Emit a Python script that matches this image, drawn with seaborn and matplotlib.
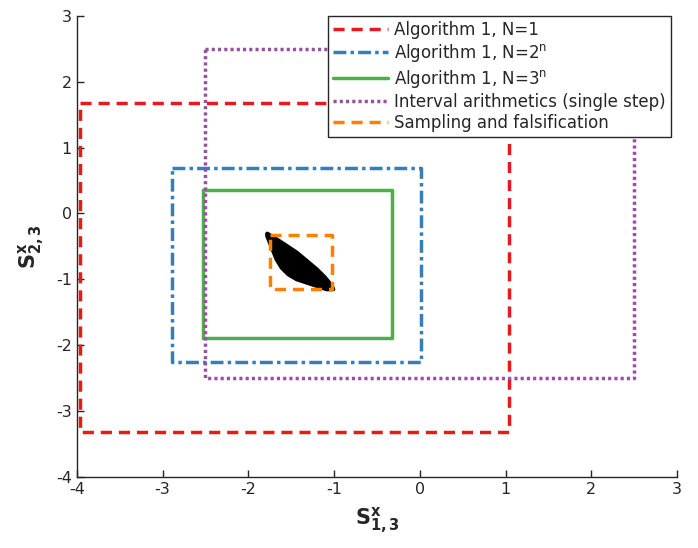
import numpy as np
import pandas as pd
import matplotlib
matplotlib.use("Agg")
import matplotlib.pyplot as plt
import seaborn as sns

# Box bounds [xmin, xmax, ymin, ymax]
labels = ["Algorithm 1, N=1", r"Algorithm 1, N=2$^{\rm n}$", r"Algorithm 1, N=3$^{\rm n}$",
          "Interval arithmetics (single step)", "Sampling and falsification"]
x_min = [-3.96, -2.89, -2.53, -2.50, -1.75]
x_max = [1.04, 0.01, -0.32, 2.50, -1.02]
y_min = [-3.32, -2.26, -1.89, -2.50, -1.15]
y_max = [1.68, 0.69, 0.35, 2.50, -0.33]

# Outline of the sampled reachable set (black region)
blob_x = [-1.779, -1.670, -1.553, -1.436, -1.320, -1.203, -1.106, -1.028, -1.009,
          -1.086, -1.203, -1.320, -1.436, -1.534, -1.611, -1.670, -1.709, -1.748, -1.779]
blob_y = [-0.308, -0.394, -0.494, -0.595, -0.721, -0.848, -0.974, -1.100, -1.152,
          -1.152, -1.100, -1.050, -1.000, -0.924, -0.823, -0.697, -0.570, -0.444, -0.342]

x_ticks = [-4, -3, -2, -1, 0, 1, 2, 3]
y_ticks = [-4, -3, -2, -1, 0, 1, 2, 3]

sns.set_theme(style="ticks")
plt.rcParams['font.family'] = ['DejaVu Sans']
plt.rcParams['axes.unicode_minus'] = False

pal = sns.color_palette("Set1")
colors = [pal[0], pal[1], pal[2], pal[3], pal[4]]
styles = [(0, (3.2, 2.0)), (0, (3.7, 1.2, 1.0, 1.2)), "-", (0, (0.9, 0.9)), (0, (3.2, 2.0))]

fig = plt.figure(figsize=(6.98, 5.48), dpi=100)
ax = fig.add_axes([0.110, 0.130, 0.860, 0.841])

ax.fill(blob_x, blob_y, facecolor="black", lw=3, edgecolor="black",
        joinstyle="round", zorder=2)

for i in range(len(labels)):
    px = [x_min[i], x_max[i], x_max[i], x_min[i], x_min[i]]
    py = [y_max[i], y_max[i], y_min[i], y_min[i], y_max[i]]
    sns.lineplot(x=px, y=py, sort=False, estimator=None, ax=ax, color=colors[i],
                 linestyle=styles[i], linewidth=2.5, label=labels[i],
                 solid_joinstyle="round", dash_joinstyle="round", zorder=3)

ax.set_xlim(-4, 3)
ax.set_ylim(-4, 3)
ax.set_xticks(x_ticks)
ax.set_yticks(y_ticks)
ax.tick_params(direction="in", length=5, width=1, labelsize=11.5, colors="#262626",
               labelcolor="#262626")
for s in ["top", "right"]:
    ax.spines[s].set_visible(False)
for s in ["left", "bottom"]:
    ax.spines[s].set_color("#262626")
    ax.spines[s].set_linewidth(1)

ax.set_xlabel(r"$\mathbf{S^{x}_{1,3}}$", fontsize=15, color="#262626", labelpad=6)
ax.set_ylabel(r"$\mathbf{S^{x}_{2,3}}$", fontsize=15, color="#262626", labelpad=7)

leg = ax.legend(loc="upper right", bbox_to_anchor=(0.99, 1.0), fontsize=12,
                handlelength=3.3, frameon=True, fancybox=False, framealpha=1,
                edgecolor="#262626", labelspacing=0.2, borderpad=0.3, handletextpad=0.4,
                borderaxespad=0.0)
leg.get_frame().set_linewidth(1)
for t in leg.get_texts():
    t.set_color("#262626")

fig.savefig("out.png", dpi=100)
